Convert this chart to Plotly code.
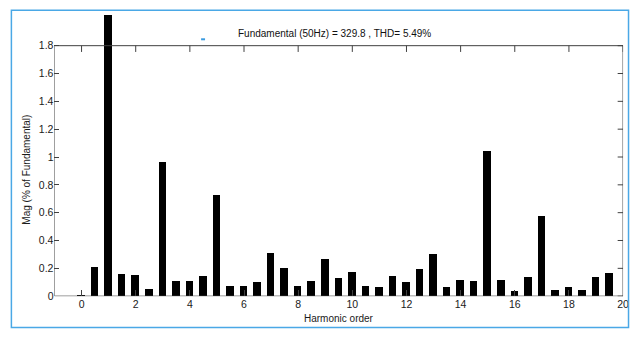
import plotly.graph_objects as go

harmonic_order = [0, 0.5, 1, 1.5, 2, 2.5, 3, 3.5, 4, 4.5, 5, 5.5, 6, 6.5, 7, 7.5, 8, 8.5, 9, 9.5,
                  10, 10.5, 11, 11.5, 12, 12.5, 13, 13.5, 14, 14.5, 15, 15.5, 16, 16.5, 17, 17.5,
                  18, 18.5, 19, 19.5]
magnitude = [0.006, 0.209, 2.02, 0.159, 0.152, 0.051, 0.965, 0.105, 0.105, 0.145, 0.723, 0.074,
             0.074, 0.098, 0.308, 0.202, 0.074, 0.105, 0.267, 0.128, 0.173, 0.069, 0.062, 0.145,
             0.098, 0.192, 0.303, 0.062, 0.114, 0.107, 1.043, 0.114, 0.032, 0.133, 0.572, 0.044,
             0.062, 0.039, 0.138, 0.164]
x_ticks = [0, 2, 4, 6, 8, 10, 12, 14, 16, 18, 20]
y_ticks = [0, 0.2, 0.4, 0.6, 0.8, 1.0, 1.2, 1.4, 1.6, 1.8]
y_tick_labels = ["0", "0.2", "0.4", "0.6", "0.8", "1", "1.2", "1.4", "1.6", "1.8"]
title_text = "Fundamental (50Hz) = 329.8 , THD= 5.49%"

W, H = 637, 339
X_MIN, X_MAX = -1, 20
Y_TOP_BOX = 1.8
Y_MAX = 2.04

FONT = "Liberation Sans, Arial, sans-serif"
AX = "#404040"
TXT = "#1a1a1a"

fig = go.Figure()
fig.add_trace(go.Bar(x=harmonic_order, y=magnitude, width=0.28,
                     marker=dict(color="black", line=dict(width=0))))

shapes = []
# axes box (0 .. 1.8)
shapes.append(dict(type="rect", xref="x", yref="y", x0=X_MIN, x1=X_MAX, y0=0, y1=Y_TOP_BOX,
                   line=dict(color=AX, width=1), layer="above"))
# top ticks
for t in x_ticks:
    shapes.append(dict(type="line", xref="x", yref="y", x0=t, x1=t, y0=Y_TOP_BOX,
                       y1=Y_TOP_BOX - 0.045, line=dict(color=AX, width=1)))
# right ticks
for t in y_ticks:
    shapes.append(dict(type="line", xref="x", yref="y", x0=X_MAX, x1=X_MAX - 0.2, y0=t,
                       y1=t, line=dict(color=AX, width=1)))
# outer screenshot frame
shapes.append(dict(type="rect", xref="paper", yref="paper", x0=11.5 / W, x1=634.5 / W,
                   y0=(H - 333.5) / H, y1=(H - 10.5) / H,
                   line=dict(color="#4aa8e6", width=1.5)))
# small blue dash artifact
shapes.append(dict(type="line", xref="paper", yref="paper", x0=203 / W, x1=207 / W,
                   y0=(H - 40) / H, y1=(H - 40) / H, line=dict(color="#3a9be0", width=2)))

y_bottom_px = 301.5
px_per_unit = (301.5 - 46.5) / 1.8
y_top_px = y_bottom_px - Y_MAX * px_per_unit

fig.update_layout(
    width=W, height=H,
    margin=dict(l=0, r=0, t=0, b=0),
    paper_bgcolor="white", plot_bgcolor="white",
    showlegend=False,
    bargap=0,
    font=dict(family=FONT, size=10, color=TXT),
    xaxis=dict(domain=[55 / W, 629 / W], range=[X_MIN, X_MAX], tickvals=x_ticks,
               ticks="inside", ticklen=6, tickcolor=AX, showline=False, showgrid=False,
               zeroline=False, tickfont=dict(size=10.5, color=TXT)),
    yaxis=dict(domain=[(H - y_bottom_px) / H, (H - y_top_px) / H], range=[0, Y_MAX],
               tickvals=y_ticks, ticktext=y_tick_labels, ticks="inside", ticklen=5,
               tickcolor=AX, showline=False, showgrid=False, zeroline=False,
               tickfont=dict(size=10.5, color=TXT)),
    shapes=shapes,
    annotations=[
        dict(text=title_text, xref="paper", yref="paper", x=338 / W, y=(H - 34) / H,
             showarrow=False, xanchor="center", yanchor="middle",
             font=dict(size=10, color="#111111")),
        dict(text="Harmonic order", xref="paper", yref="paper", x=342 / W, y=(H - 324) / H,
             showarrow=False, xanchor="center", yanchor="middle",
             font=dict(size=10, color=TXT)),
        dict(text="Mag (% of Fundamental)", xref="paper", yref="paper", x=27 / W,
             y=(H - 173) / H, showarrow=False, textangle=-90, xanchor="center",
             yanchor="middle", font=dict(size=10, color=TXT)),
    ],
)

fig.write_html("out.html")
